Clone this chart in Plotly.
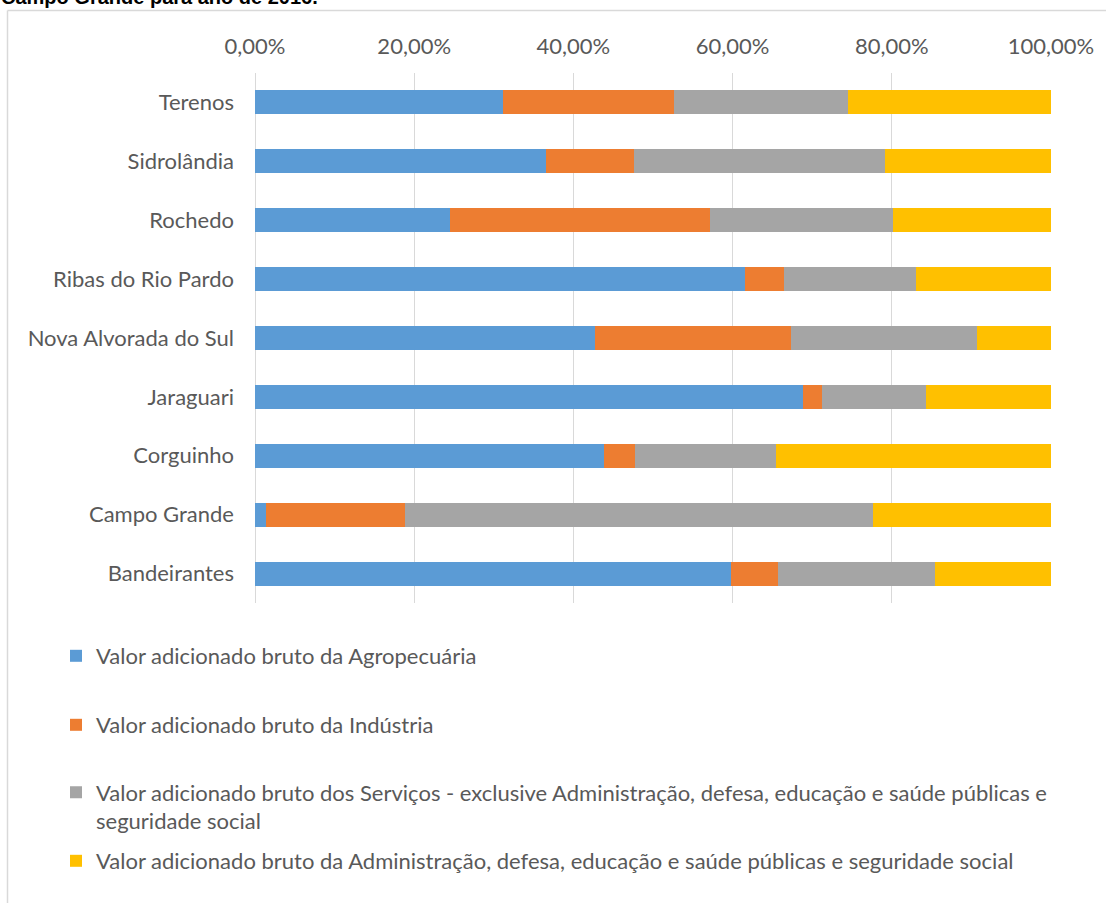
import plotly.graph_objects as go

# ---- data (bottom to top as plotted) ----
municipios = ["Bandeirantes", "Campo Grande", "Corguinho", "Jaraguari",
              "Nova Alvorada do Sul", "Ribas do Rio Pardo", "Rochedo",
              "Sidrolândia", "Terenos"]
agropecuaria = [0.598, 0.014, 0.438, 0.689, 0.427, 0.616, 0.245, 0.365, 0.312]
industria    = [0.059, 0.174, 0.040, 0.023, 0.246, 0.049, 0.327, 0.111, 0.215]
servicos     = [0.197, 0.588, 0.176, 0.131, 0.234, 0.165, 0.230, 0.316, 0.218]
administracao = [0.146, 0.224, 0.346, 0.157, 0.093, 0.170, 0.198, 0.208, 0.255]

series_names = [
    "Valor adicionado bruto da Agropecuária",
    "Valor adicionado bruto da Indústria",
    "Valor adicionado bruto dos Serviços - exclusive Administração, defesa, educação e saúde públicas e<br>seguridade social",
    "Valor adicionado bruto da Administração, defesa, educação e saúde públicas e seguridade social",
]
series_values = [agropecuaria, industria, servicos, administracao]
colors = ["#5B9BD5", "#ED7D31", "#A5A5A5", "#FFC000"]
tick_vals = [0, 0.2, 0.4, 0.6, 0.8, 1.0]
title_text = "Campo Grande para ano de 2016."

W, H = 1106, 903
ML, MR, MT, MB = 255, 55, 73, 300
PW, PH = W - ML - MR, H - MT - MB

def px2paper_x(px):
    return (px - ML) / PW

def py2paper_y(py):
    return (H - MB - py) / PH

FONT = "Lato"
FS = 22
GREY_TXT = "#595959"

fig = go.Figure()
legend_ids = ["legend", "legend2", "legend3", "legend4"]
for name, vals, col, lg in zip(series_names, series_values, colors, legend_ids):
    fig.add_trace(go.Bar(
        y=municipios, x=vals, name=name, orientation="h",
        marker=dict(color=col, line=dict(width=0)),
        legend=lg, hoverinfo="x+y+name",
    ))

leg_common = dict(
    font=dict(family=FONT, size=FS, color=GREY_TXT),
    xref="container", yref="container", xanchor="left", yanchor="middle",
    bgcolor="rgba(0,0,0,0)", borderwidth=0, itemwidth=30,
)
legend_centers = [656, 725, 807, 861]
legend_x = 56
legends = {}
for lg, cy in zip(legend_ids, legend_centers):
    d = dict(leg_common)
    d.update(x=legend_x / W, y=1 - cy / H)
    if lg == "legend3":
        d.update(valign="top")
    legends[lg] = d

fig.update_layout(
    width=W, height=H,
    margin=dict(l=ML, r=MR, t=MT, b=MB, pad=0, autoexpand=False),
    barmode="stack", bargap=0.593,
    plot_bgcolor="white", paper_bgcolor="white",
    separators=",.",
    showlegend=True,
    font=dict(family=FONT, size=FS, color=GREY_TXT),
    xaxis=dict(
        side="top", range=[0, 1], tickvals=tick_vals, tickformat=".2%",
        showgrid=True, gridcolor="#D9D9D9", gridwidth=1.3,
        zeroline=True, zerolinecolor="#D9D9D9", zerolinewidth=1.3,
        showline=False, ticks="", ticklabelstandoff=14,
        tickfont=dict(family=FONT, size=FS, color=GREY_TXT),
        fixedrange=True,
    ),
    yaxis=dict(
        type="category", categoryorder="array", categoryarray=municipios,
        showgrid=False, showline=False, ticks="", ticklabelstandoff=20,
        tickfont=dict(family=FONT, size=FS, color=GREY_TXT),
        fixedrange=True,
    ),
    **legends,
)

# chart frame (partially visible: left and top edges)
fig.add_shape(type="line", xref="paper", yref="paper",
              x0=px2paper_x(7.5), x1=px2paper_x(1200), y0=py2paper_y(10.5), y1=py2paper_y(10.5),
              line=dict(color="#D9D9D9", width=1.5), layer="below")
fig.add_shape(type="line", xref="paper", yref="paper",
              x0=px2paper_x(7.5), x1=px2paper_x(7.5), y0=py2paper_y(10.5), y1=py2paper_y(1000),
              line=dict(color="#D9D9D9", width=1.5), layer="below")

# title, cut off at the top of the picture
fig.add_annotation(
    text="<b>" + title_text + "</b>", xref="paper", yref="paper",
    x=px2paper_x(-1), y=py2paper_y(10), xanchor="left", yanchor="bottom",
    showarrow=False, font=dict(family="Liberation Sans, Arial", size=20, color="#000000"),
)

fig.write_html(
    "out.html",
    config={"displayModeBar": False},
    post_script="document.body.style.margin='0';document.body.style.padding='0';",
)
